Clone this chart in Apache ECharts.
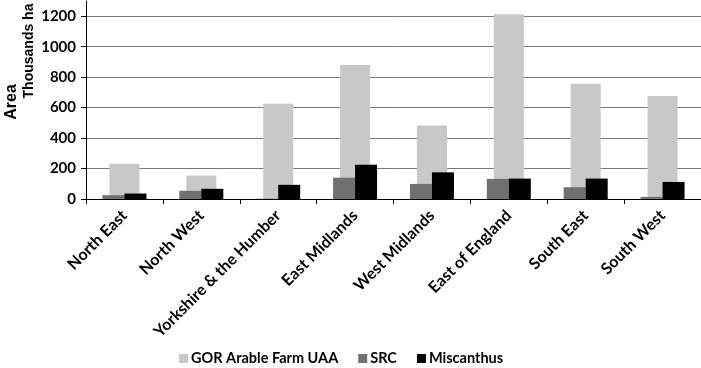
<!DOCTYPE html>
<html>
<head>
<meta charset="utf-8">
<script src="https://cdn.jsdelivr.net/npm/echarts@6/dist/echarts.min.js"></script>
<style>
  html, body { margin: 0; padding: 0; background: #fff; }
  #chart { width: 701px; height: 368px; }
</style>
</head>
<body>
<div id="chart"></div>
<script>
const regions = ["North East", "North West", "Yorkshire & the Humber", "East Midlands", "West Midlands", "East of England", "South East", "South West"];
const arable = [232, 154, 625, 879, 483, 1213, 756, 677];
const src = [25, 54, 2, 140, 99, 132, 77, 14];
const miscanthus = [36, 67, 93, 225, 175, 134, 134, 112];
const yTicks = [0, 200, 400, 600, 800, 1000, 1200];
const yMax = 1300;

const labelFont = "Lato, 'Open Sans', sans-serif";

const el = document.getElementById("chart");
const chart = echarts.init(el, null, { renderer: "canvas" });

chart.setOption({
  animation: false,
  backgroundColor: "#fff",
  grid: { left: 86, right: 0, top: 1, bottom: 169 },
  legend: {
    left: 174,
    top: 346,
    itemWidth: 9,
    itemHeight: 9,
    itemGap: 20,
    icon: "rect",
    data: ["GOR Arable Farm UAA", "SRC", "Miscanthus"],
    textStyle: { fontFamily: labelFont, fontWeight: "bold", fontSize: 14.5, color: "#000", padding: [0, 0, 0, -2] },
  },
  graphic: [
    {
      type: "text",
      x: 12,
      y: 102,
      rotation: Math.PI / 2,
      style: {
        text: "Area",
        font: "bold 16px 'Liberation Sans', Arial, sans-serif",
        fill: "#000",
        textAlign: "center",
        textVerticalAlign: "middle",
      },
    },
    {
      type: "text",
      x: 29,
      y: 51,
      rotation: Math.PI / 2,
      style: {
        text: "Thousands ha",
        font: "bold 14px 'Liberation Sans', Arial, sans-serif",
        fill: "#000",
        textAlign: "center",
        textVerticalAlign: "middle",
      },
    },
  ],
  xAxis: [
    {
      type: "category",
      data: regions,
      axisLine: { lineStyle: { color: "#000", width: 1 } },
      axisTick: { show: true, length: 5, lineStyle: { color: "#000" } },
      axisLabel: {
        interval: 0,
        rotate: 45,
        margin: 14,
        fontFamily: labelFont,
        fontWeight: "bold",
        fontSize: 16,
        color: "#000",
      },
    },
    { type: "category", data: regions, show: false },
  ],
  yAxis: {
    type: "value",
    min: yTicks[0],
    max: yMax,
    interval: yTicks[1] - yTicks[0],
    axisLine: { show: true, lineStyle: { color: "#000", width: 1 } },
    axisTick: { show: true, length: 5, lineStyle: { color: "#000" } },
    axisLabel: {
      margin: 10,
      showMaxLabel: false,
      fontFamily: labelFont,
      fontWeight: "bold",
      fontSize: 15,
      color: "#000",
      formatter: (v) => (yTicks.includes(v) ? String(v) : ""),
    },
    splitLine: { showMaxLine: false, lineStyle: { color: "#7a7a7a", width: 1 } },
  },
  series: [
    {
      name: "GOR Arable Farm UAA",
      type: "bar",
      xAxisIndex: 1,
      barWidth: 30,
      z: 1,
      itemStyle: { color: "#c8c8c8" },
      data: arable,
    },
    {
      name: "SRC",
      type: "bar",
      xAxisIndex: 0,
      barWidth: 22,
      barGap: "0%",
      z: 3,
      itemStyle: { color: "#707070" },
      data: src,
    },
    {
      name: "Miscanthus",
      type: "bar",
      xAxisIndex: 0,
      barWidth: 22,
      barGap: "0%",
      z: 3,
      itemStyle: { color: "#000" },
      data: miscanthus,
    },
  ],
});
</script>
</body>
</html>
